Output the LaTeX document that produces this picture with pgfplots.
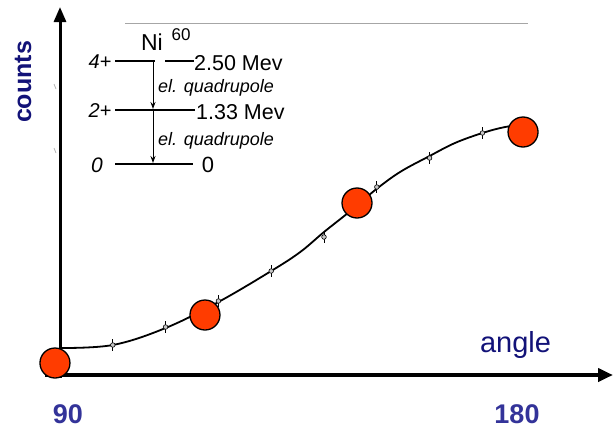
\documentclass[border=0pt]{standalone}
\usepackage{pgfplots}
\pgfplotsset{compat=1.18}
\usepackage{fontspec}
\setmainfont{Liberation Sans}
\usetikzlibrary{arrows.meta}
\definecolor{navy}{RGB}{18,18,120}
\definecolor{lblue}{RGB}{51,51,153}
\definecolor{redfill}{RGB}{255,60,0}
\begin{document}
\begin{tikzpicture}
% axis arrows (pixel frame)
\begin{scope}[x=1bp, y=-1bp, shift={(0,428bp)}]
\path (0,0) rectangle (615,428);
\draw[black, line width=3bp, -{Triangle[width=12bp,length=15bp]}] (60,378) -- (60,7);
\draw[black, line width=4bp, -{Triangle[width=13bp,length=15bp]}] (45,375) -- (613,375);
\draw[gray!70, line width=0.9bp] (125,23) -- (528,23);
\draw[gray!60, line width=0.8bp] (54,84) -- (56,89);
\draw[gray!60, line width=0.8bp] (54,148) -- (56,153);
\end{scope}
\begin{axis}[at={(0,0)}, anchor=south west, scale only axis,
  width=615bp, height=428bp,
  xmin=78.64, xmax=195.11, ymin=-53, ymax=375,
  hide axis, clip=false]
\addplot[black, line width=1.8bp, smooth, tension=0.6] coordinates {
(90,27) (100,30) (110,47) (120,73) (130,104) (135.5,123) (140,143) (145,164)
(149.7,185) (154.4,203) (160,219) (164.8,232) (170,242) (174.3,248) (177.7,250)};
\addplot[only marks, mark=*, mark size=2.3bp,
  mark options={fill=gray!45, draw=black, line width=0.6bp},
  error bars/.cd, y dir=both, y explicit,
  error bar style={black, line width=0.8bp},
  error mark options={black, mark size=1.6bp, line width=0.8bp}]
coordinates {
(100,30) +- (0,4)
(110,48) +- (0,4)
(120,74) +- (0,4)
(130,104) +- (0,4)
(140,138) +- (0,4)
(150,188) +- (0,4)
(160,217) +- (0,4)
(170,242) +- (0,4)};
\addplot[only marks, mark=*, mark size=15bp,
  mark options={fill=redfill, draw=black, line width=1.3bp}]
coordinates {(89.05,12) (117.46,60) (146.25,172) (177.69,243)};
\end{axis}
% labels and level diagram (pixel frame)
\begin{scope}[x=1bp, y=-1bp, shift={(0,428bp)}]
\node[rotate=90, text=navy, font=\fontsize{25bp}{30bp}\selectfont\bfseries, inner sep=0pt] at (23,82) {counts};
\node[text=navy, font=\fontsize{29bp}{34bp}\selectfont, anchor=base, inner sep=0pt] at (515.5,352) {angle};
\node[text=lblue, font=\fontsize{27bp}{32bp}\selectfont\bfseries, anchor=base, inner sep=0pt] at (68,423) {90};
\node[text=lblue, font=\fontsize{27bp}{32bp}\selectfont\bfseries, anchor=base, inner sep=0pt] at (517,423) {180};
% level diagram
\draw[black, line width=1.1bp] (115,61) -- (155,61);
\draw[black, line width=1.1bp] (165,61) -- (194,61);
\draw[black, line width=1.1bp] (115,110) -- (195,110);
\draw[black, line width=1.1bp] (115,164) -- (193,164);
\draw[black, line width=1bp, -{Stealth[width=5bp,length=7bp]}] (153,61) -- (153,109);
\draw[black, line width=1bp, -{Stealth[width=5bp,length=7bp]}] (153,110) -- (153,163);
\node[font=\fontsize{23bp}{27bp}\selectfont, anchor=base, inner sep=0pt] at (152,50) {Ni};
\node[font=\fontsize{17bp}{20bp}\selectfont, anchor=base, inner sep=0pt] at (181,40) {60};
\node[font=\fontsize{20bp}{24bp}\selectfont\itshape, inner sep=0pt] at (100,62) {4+};
\node[font=\fontsize{20bp}{24bp}\selectfont\itshape, inner sep=0pt] at (100,111) {2+};
\node[font=\fontsize{21bp}{24bp}\selectfont\itshape, inner sep=0pt] at (97,165) {0};
\node[font=\fontsize{21.5bp}{25bp}\selectfont, anchor=base west, inner sep=0pt] at (194,70) {2.50 Mev};
\node[font=\fontsize{21.5bp}{25bp}\selectfont, anchor=base west, inner sep=0pt] at (196,119) {1.33 Mev};
\node[font=\fontsize{22bp}{25bp}\selectfont, inner sep=0pt] at (208,165) {0};
\node[font=\fontsize{18bp}{21bp}\selectfont\itshape, anchor=base west, inner sep=0pt] at (158,92) {el. quadrupole};
\node[font=\fontsize{18bp}{21bp}\selectfont\itshape, anchor=base west, inner sep=0pt] at (158,145) {el. quadrupole};
\end{scope}
\end{tikzpicture}
\end{document}
